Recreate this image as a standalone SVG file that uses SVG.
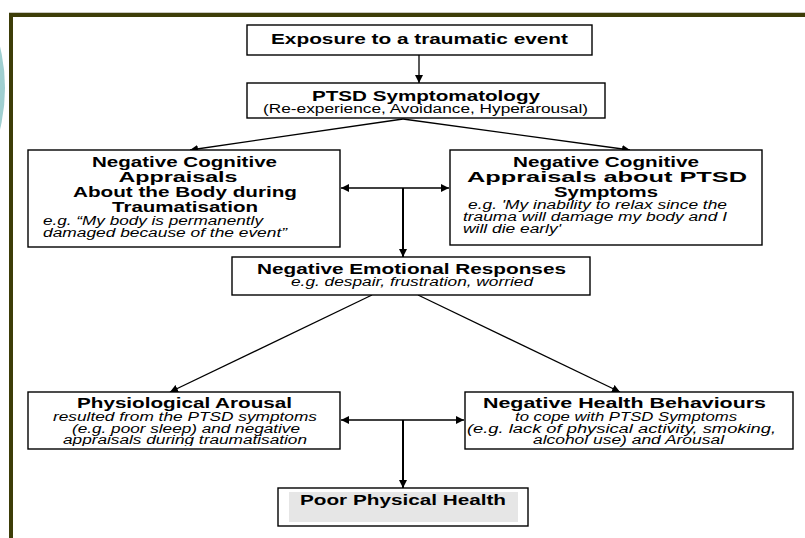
<svg xmlns="http://www.w3.org/2000/svg" width="805" height="538" viewBox="0 0 805 538">
<style>
.box{fill:#fff;stroke:#000;stroke-width:1.4}
.h{font-family:"Liberation Sans",Arial,sans-serif;font-weight:bold;font-size:15px;fill:#000}
.n{font-family:"Liberation Sans",Arial,sans-serif;font-size:12.5px;fill:#000}
.i{font-family:"Liberation Sans",Arial,sans-serif;font-style:italic;font-size:12.5px;fill:#000}
.c{text-anchor:middle}
.ln{stroke:#000;stroke-width:1.3;fill:none}
.th{stroke-width:2}
</style>
<defs>
<marker id="ah" markerUnits="userSpaceOnUse" markerWidth="9" markerHeight="8" refX="8" refY="4" orient="auto-start-reverse">
<path d="M0,0 L8,4 L0,8 z" fill="#000"/>
</marker>
<clipPath id="clipPhys"><rect x="28" y="392" width="312" height="54"/></clipPath>
</defs>
<rect width="805" height="538" fill="#fff"/>
<circle cx="-170" cy="88" r="175" fill="#9fcfd0"/>
<g id="frame">
<rect x="9" y="12" width="796" height="1" fill="#c8c8c0"/>
<rect x="9" y="13" width="796" height="4" fill="#3d3d08"/>
<rect x="9" y="13" width="4" height="525" fill="#3d3d08"/>
</g>

<g id="connectors">
<line class="ln" x1="419" y1="55" x2="419" y2="83" marker-end="url(#ah)"/>
<line class="ln" x1="403" y1="119" x2="190" y2="150" marker-end="url(#ah)"/>
<line class="ln" x1="403" y1="119" x2="630" y2="150" marker-end="url(#ah)"/>
<line class="ln" x1="341" y1="188" x2="449" y2="188" marker-start="url(#ah)" marker-end="url(#ah)"/>
<line class="ln th" x1="403" y1="188" x2="403" y2="257" marker-end="url(#ah)"/>
<line class="ln" x1="372" y1="295" x2="170" y2="392" marker-end="url(#ah)"/>
<line class="ln" x1="418" y1="295" x2="620" y2="392" marker-end="url(#ah)"/>
<line class="ln" x1="341" y1="420" x2="464" y2="420" marker-start="url(#ah)" marker-end="url(#ah)"/>
<line class="ln th" x1="403" y1="420" x2="403" y2="488" marker-end="url(#ah)"/>
</g>

<g id="exposure">
<rect class="box" x="247" y="25" width="345" height="30"/>
<text class="h c" x="419.5" y="44" textLength="297" lengthAdjust="spacingAndGlyphs">Exposure to a traumatic event</text>
</g>

<g id="ptsd">
<rect class="box" x="247" y="83" width="358" height="35"/>
<text class="h c" x="426" y="101" textLength="228" lengthAdjust="spacingAndGlyphs">PTSD Symptomatology</text>
<text class="n c" x="425.5" y="113" textLength="325" lengthAdjust="spacingAndGlyphs">(Re-experience, Avoidance, Hyperarousal)</text>
</g>

<g id="appraisal-body">
<rect class="box" x="28" y="150" width="312" height="97"/>
<text class="h c" x="184.5" y="167" textLength="185" lengthAdjust="spacingAndGlyphs">Negative Cognitive</text>
<text class="h c" x="178" y="182" textLength="119" lengthAdjust="spacingAndGlyphs">Appraisals</text>
<text class="h c" x="185" y="197" textLength="224" lengthAdjust="spacingAndGlyphs">About the Body during</text>
<text class="h c" x="185" y="212" textLength="146" lengthAdjust="spacingAndGlyphs">Traumatisation</text>
<text class="i" x="43" y="225" textLength="220" lengthAdjust="spacingAndGlyphs">e.g. “My body is permanently</text>
<text class="i" x="43" y="237" textLength="244" lengthAdjust="spacingAndGlyphs">damaged because of the event”</text>
</g>

<g id="appraisal-symptoms">
<rect class="box" x="450" y="150" width="312" height="95"/>
<text class="h c" x="606" y="167" textLength="186" lengthAdjust="spacingAndGlyphs">Negative Cognitive</text>
<text class="h c" x="607" y="182" textLength="280" lengthAdjust="spacingAndGlyphs">Appraisals about PTSD</text>
<text class="h c" x="606" y="197" textLength="104" lengthAdjust="spacingAndGlyphs">Symptoms</text>
<text class="i" x="468" y="209" textLength="259" lengthAdjust="spacingAndGlyphs">e.g. 'My inability to relax since the</text>
<text class="i" x="463" y="221" textLength="264" lengthAdjust="spacingAndGlyphs">trauma will damage my body and I</text>
<text class="i" x="463" y="233" textLength="98" lengthAdjust="spacingAndGlyphs">will die early'</text>
</g>

<g id="emotional">
<rect class="box" x="232" y="257" width="358" height="38"/>
<text class="h c" x="411.5" y="274" textLength="309" lengthAdjust="spacingAndGlyphs">Negative Emotional Responses</text>
<text class="i c" x="412" y="286" textLength="242" lengthAdjust="spacingAndGlyphs">e.g. despair, frustration, worried</text>
</g>

<g id="physiological">
<rect class="box" x="28" y="392" width="312" height="57"/>
<text class="h c" x="184.5" y="408" textLength="215" lengthAdjust="spacingAndGlyphs">Physiological Arousal</text>
<text class="i c" x="185" y="421" textLength="264" lengthAdjust="spacingAndGlyphs">resulted from the PTSD symptoms</text>
<text class="i c" x="186" y="432.5" textLength="228" lengthAdjust="spacingAndGlyphs">(e.g. poor sleep) and negative</text>
<text class="i c" x="185" y="444" textLength="244" lengthAdjust="spacingAndGlyphs" clip-path="url(#clipPhys)">appraisals during traumatisation</text>
</g>

<g id="health-behaviours">
<rect class="box" x="465" y="392" width="328" height="57"/>
<text class="h c" x="624.5" y="408" textLength="283" lengthAdjust="spacingAndGlyphs">Negative Health Behaviours</text>
<text class="i c" x="626" y="421" textLength="222" lengthAdjust="spacingAndGlyphs">to cope with PTSD Symptoms</text>
<text class="i c" x="621.5" y="432.5" textLength="309" lengthAdjust="spacingAndGlyphs">(e.g. lack of physical activity, smoking,</text>
<text class="i c" x="628.5" y="444" textLength="191" lengthAdjust="spacingAndGlyphs">alcohol use) and Arousal</text>
</g>

<g id="poor-health">
<rect class="box" x="278" y="488" width="250" height="38"/>
<rect x="289" y="492" width="229" height="30" fill="#e6e6e6"/>
<text class="h c" x="403" y="505" textLength="206" lengthAdjust="spacingAndGlyphs">Poor Physical Health</text>
</g>
</svg>
